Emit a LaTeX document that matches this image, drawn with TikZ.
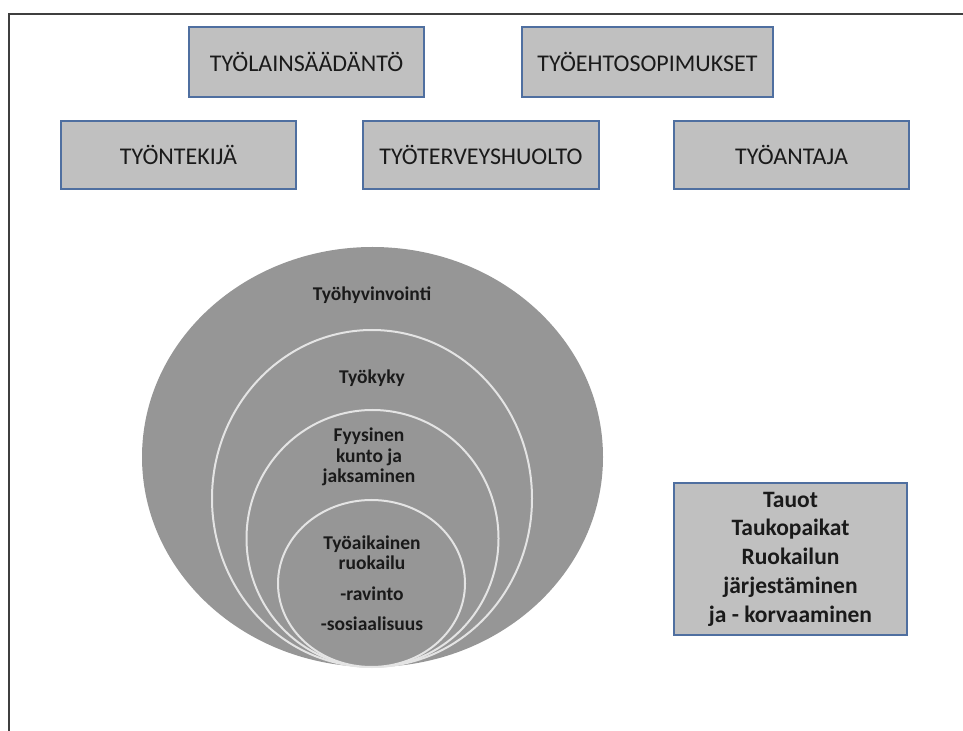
\documentclass[tikz,border=0pt]{standalone}
\usepackage{fontspec}
\setmainfont{Carlito}
\usepackage{tikz}
\definecolor{cFrame}{HTML}{3F3F3F}
\definecolor{cBoxFill}{HTML}{C0C0C0}
\definecolor{cBoxLine}{HTML}{4F6FA0}
\definecolor{cDisc}{HTML}{969696}
\definecolor{cRing}{HTML}{E4E4E4}
\definecolor{cText}{HTML}{1A1A1A}
\tikzset{
  box/.style={draw=cBoxLine, line width=1pt, fill=cBoxFill, inner sep=2pt,
              align=center, text=cText, font=\fontsize{12}{14}\selectfont},
  topbox/.style={box, minimum height=35pt},
  notebox/.style={box, minimum height=76pt,
                  font=\bfseries\fontsize{11.75}{14.35}\selectfont},
  ring/.style={draw=cRing, line width=1pt, fill=cDisc},
  disclbl/.style={inner sep=0pt, align=center, text=cText,
                  font=\bfseries\fontsize{9.75}{10.25}\selectfont}
}

\begin{document}
\begin{tikzpicture}[x=0.5pt, y=-0.5pt]
\useasboundingbox (0,0) rectangle (963,731);
% frame: top and left edge only
\draw[cFrame, line width=1pt] (963,14) -- (9,14) -- (9,731);
% upper row
\node[topbox, minimum width=117.5pt] (laki)  at (306.5,62) {TYÖLAINSÄÄDÄNTÖ};
\node[topbox, minimum width=125.5pt] (tes)   at (647.5,62) {TYÖEHTOSOPIMUKSET};
% lower row
\node[topbox, minimum width=117.5pt, minimum height=34pt] (tekija) at (178.5,155) {TYÖNTEKIJÄ};
\node[topbox, minimum width=118pt, minimum height=34pt]   (huolto) at (481,155)   {TYÖTERVEYSHUOLTO};
\node[topbox, minimum width=117.5pt, minimum height=34pt] (antaja) at (791.5,155) {TYÖANTAJA};
% nested circles, all resting on the same bottom point
\fill[cDisc] (372.5,457) ellipse [x radius=230.5, y radius=210];
\draw[ring] (372,498.5) ellipse [x radius=160, y radius=168.5];
\draw[ring] (372.5,538.5) ellipse [x radius=126, y radius=128.5];
\draw[ring] (371.5,583.5) ellipse [x radius=93.5, y radius=83.5];
\node[disclbl] (hyv)   at (372,295) {Työhyvinvointi};
\node[disclbl] (kyky)  at (372,378) {Työkyky};
\node[disclbl] (kunto) at (369,457) {Fyysinen\\kunto ja\\jaksaminen};
\node[disclbl] (ruoka) at (372,583) {Työaikainen\\ruokailu\\[5pt]-ravinto\\[5pt]-sosiaalisuus};
% breaks and meals
\node[notebox, minimum width=116.5pt] (tauot) at (790.5,559)
  {Tauot\\Taukopaikat\\Ruokailun\\järjestäminen\\ja - korvaaminen};
\end{tikzpicture}
\end{document}
